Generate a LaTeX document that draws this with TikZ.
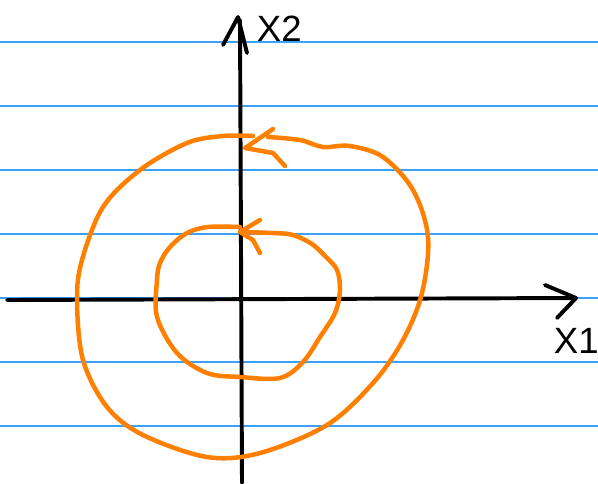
\documentclass[tikz,border=0pt]{standalone}
\usepackage{fontspec}
\setmainfont{Liberation Sans}
\definecolor{penorange}{RGB}{255,128,0}
\definecolor{ruleblue}{RGB}{60,160,255}
\newcommand{\lbl}{\fontsize{26}{26}\selectfont}

\begin{document}
\begin{tikzpicture}[x=0.025cm,y=-0.025cm,line cap=round,line join=round]
			\useasboundingbox (0,0) rectangle (598,483);
			% ruled lines
			\draw[color=ruleblue,line width=0.9pt] (0,42) -- (598,42);
			\draw[color=ruleblue,line width=0.9pt] (0,106) -- (598,106);
			\draw[color=ruleblue,line width=0.9pt] (0,170) -- (598,170);
			\draw[color=ruleblue,line width=0.9pt] (0,234) -- (598,234);
			\draw[color=ruleblue,line width=0.9pt] (0,298) -- (598,298);
			\draw[color=ruleblue,line width=0.9pt] (0,362) -- (598,362);
			\draw[color=ruleblue,line width=0.9pt] (0,426) -- (598,426);
			% axes
			\coordinate (xstart) at (7,300);
			\coordinate (xend) at (576,298);
			\coordinate (ystart) at (242,483);
			\coordinate (yend) at (238,17);
			\draw[line width=2.8pt] (xstart) -- (xend);
			\draw[line width=2.8pt] (545,285) -- (xend) -- (557,318);
			\draw[line width=2.8pt] (ystart) -- (240,20);
			\draw[line width=2.8pt] (223,45) -- (yend) -- (247,53);
			\draw (252,29) node[anchor=west]{\lbl X2};
			\draw (549,341) node[anchor=west]{\lbl X1};
			% outer orbit
			\draw[color=penorange,line width=3.2pt] plot[smooth,tension=0.55] coordinates {(268,137) (300,140) (323,147) (350,146) (383,157) (413,190) (428,237) (422,293) (403,340) (373,383) (327,425) (260,453) (207,457) (143,435) (107,407) (83,360) (77,300) (82,260) (103,207) (140,170) (187,143) (223,136) (253,136)};
			\coordinate (outertip) at (245,148);
			\draw[color=penorange,line width=3.2pt] (273,129) -- (outertip) -- (273,153) -- (285,166);
			% inner orbit
			\coordinate (innertip) at (240,232);
			\draw[color=penorange,line width=3.2pt] plot[smooth,tension=0.55] coordinates {(innertip) (273,233) (293,235) (312,244) (326,257) (337,270) (340,290) (335,313) (320,337) (303,362) (280,378) (240,377) (207,373) (177,353) (157,317) (157,280) (160,263) (170,247) (187,233) (208,227) (240,227)};
			\draw[color=penorange,line width=3.2pt] (260,220) -- (innertip) -- (253,240) -- (260,253);
		\end{tikzpicture}
\end{document}
